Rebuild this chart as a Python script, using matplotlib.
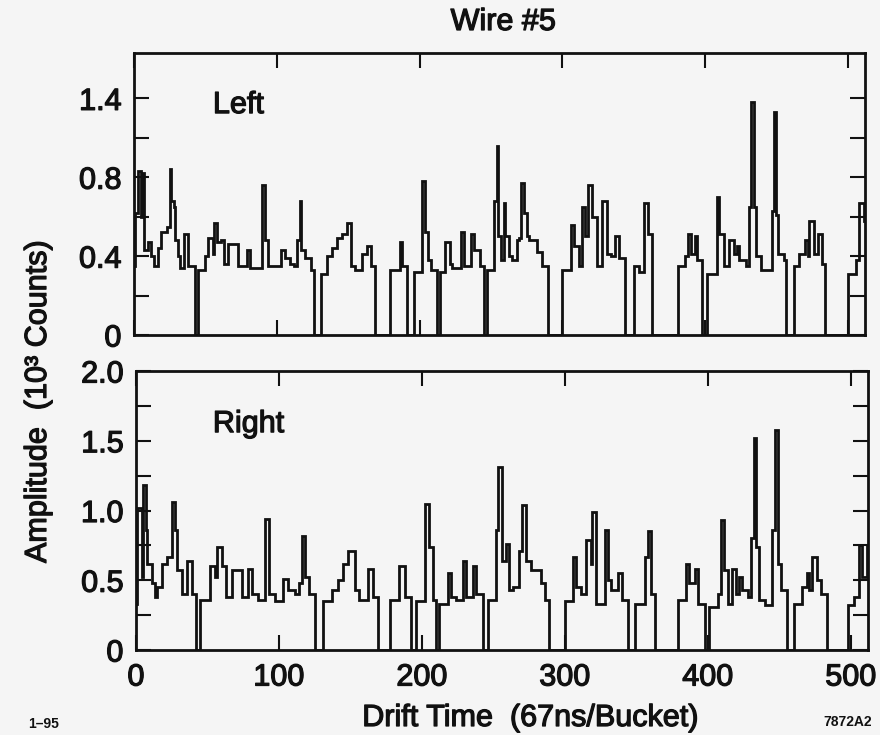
import numpy as np
import matplotlib
matplotlib.use('Agg')
import matplotlib.pyplot as plt
import matplotlib.patheffects as pe

plt.rcParams['font.family'] = ['Liberation Sans', 'DejaVu Sans']

# bucket edges and amplitudes (10^3 counts)
left_edges = [0, 1, 3, 5, 6, 7, 10, 12, 14, 17, 19, 23, 25, 26, 28, 29, 31, 32, 35, 38,
              43, 45, 50, 52, 55, 56, 58, 61, 63, 66, 73, 79, 81, 90, 92, 94, 103, 106, 109, 112,
              114, 116, 117, 120, 124, 126, 131, 135, 139, 142, 146, 149, 152, 155, 160, 163, 166, 169, 179, 186,
              188, 191, 196, 202, 204, 206, 208, 212, 214, 218, 221, 223, 229, 231, 236, 238, 242, 245, 247, 252,
              254, 255, 257, 259, 260, 263, 265, 268, 270, 271, 273, 275, 277, 282, 286, 290, 300, 306, 308, 312,
              314, 316, 318, 321, 324, 328, 331, 334, 337, 340, 344, 350, 354, 357, 360, 363, 381, 386, 388, 390,
              393, 394, 398, 401, 408, 410, 413, 417, 420, 422, 424, 429, 431, 432, 434, 436, 439, 447, 448, 450,
              451, 455, 457, 462, 466, 470, 472, 473, 476, 479, 482, 484, 500, 506, 508, 511, 512]
left_counts = [.35, .62, .83, .60, .82, .43, .47, .40, .35, .44, .52, .55, .84, .68, .65, .48, .40, .34, .51, .35,
               0, .33, .40, .49, .41, .57, .47, .48, .36, .46, .35, .43, .34, .76, .48, .35, .43, .39, .36, .35,
               .48, .68, .43, .39, .33, 0, .31, .40, .44, .49, .51, .57, .35, .33, .41, .45, .35, 0, .33, .47,
               .35, 0, .32, .78, .52, .38, .33, 0, .32, .47, .36, .34, .52, .35, .51, .43, .35, 0, .33, .68,
               .96, .50, .38, .67, .50, .40, .38, .48, .49, .77, .62, .50, .48, .42, .35, 0, .33, .56, .45, .35,
               .65, .50, .76, .60, .35, .68, .41, .40, .50, .39, 0, .35, .32, .67, .51, 0, .35, .40, .51, .41,
               .50, .38, 0, .31, .70, .51, .35, .48, .41, .45, .38, .35, .65, 1.18, .65, .40, .33, .63, 1.13, .61,
               .41, .38, 0, .35, .41, .48, .40, .58, .41, .51, .36, 0, .31, .38, .67, .58]

right_edges = [0, 1, 4, 5, 7, 8, 11, 13, 15, 18, 22, 25, 27, 29, 32, 36, 39, 42, 45, 52,
               55, 57, 60, 63, 67, 74, 78, 81, 85, 90, 93, 97, 103, 106, 111, 114, 116, 118, 121, 125,
               131, 137, 141, 145, 148, 153, 156, 162, 166, 169, 178, 184, 188, 192, 196, 202, 205, 208, 210, 212,
               218, 220, 224, 229, 231, 236, 238, 243, 246, 252, 253, 256, 259, 261, 264, 268, 270, 273, 276, 283,
               286, 289, 300, 306, 308, 311, 315, 318, 319, 322, 328, 330, 332, 337, 340, 344, 349, 356, 358, 360,
               363, 379, 385, 387, 391, 393, 398, 401, 407, 409, 411, 414, 417, 420, 422, 424, 428, 430, 432, 434,
               436, 440, 445, 447, 449, 451, 455, 460, 466, 469, 471, 473, 476, 479, 483, 498, 502, 506, 508, 511,
               512]
right_counts = [.33, 1.02, .52, 1.18, .86, .62, .48, .38, .45, .62, .67, 1.06, .86, .57, .40, .64, .40, 0, .36, .60,
                .52, .74, .60, .38, .57, .38, .58, .40, .36, .94, .40, .35, .51, .43, .40, .48, .82, .52, .40, 0,
                .35, .43, .50, .62, .71, .43, .36, .58, .38, 0, .36, .60, .38, 0, .35, 1.05, .74, .36, 0, .33,
                .55, .38, .36, .64, .38, .60, .40, 0, .36, .86, 1.31, .64, .76, .43, .45, .71, 1.04, .64, .57, .48,
                .36, 0, .35, .67, .45, .40, .79, .62, .99, .33, .86, .50, .43, .55, .36, 0, .33, .67, .85, .40,
                0, .36, .62, .48, .58, .33, 0, .31, .40, .93, .57, .33, .58, .40, .52, .43, .38, .80, 1.52, .74,
                .36, .32, .86, 1.58, .62, .43, 0, .33, .45, .55, .43, .67, .50, .40, 0, .32, .38, .75, .52, .75]

x_ticks = [0, 100, 200, 300, 400, 500]
left_yticks = [0, 0.2, 0.4, 0.6, 0.8, 1.0, 1.2]
left_ylabels = ['0', '', '0.4', '', '0.8', '', '1.4']
right_yticks = [0, 0.25, 0.5, 0.75, 1.0, 1.25, 1.5, 1.75, 2.0]
right_ylabels = ['0', '', '0.5', '', '1.0', '', '1.5', '', '2.0']

bg = '#f5f5f5'
ink = '#111111'
W, H = 880, 735
heavy = [pe.withStroke(linewidth=0.9, foreground=ink)]

fig = plt.figure(figsize=(8.8, 7.35), dpi=100, facecolor=bg)
ax1 = fig.add_axes([134 / W, 1 - 335 / H, 731 / W, 282 / H])
ax2 = fig.add_axes([136 / W, 1 - 650 / H, 732 / W, 279 / H])

for ax, edges, counts in [(ax1, left_edges, left_counts), (ax2, right_edges, right_counts)]:
    ax.set_facecolor(bg)
    ax.stairs(counts, edges, baseline=None, color=ink, lw=2.0)
    ax.set_xlim(0, 512)
    ax.set_xticks(x_ticks)
    ax.tick_params(direction='in', length=11, width=1.5, top=True, right=True,
                   labelsize=22, colors=ink, pad=9)
    for s in ax.spines.values():
        s.set_linewidth(2.0)
        s.set_color(ink)

ax1.set_ylim(0, 1.43)
ax1.set_yticks(left_yticks)
ax1.set_yticklabels(left_ylabels)
ax1.set_xticklabels([])
ax1.text(0.108, 0.787, 'Left', transform=ax1.transAxes, fontsize=22, color=ink,
         va='baseline', path_effects=heavy)

ax2.set_ylim(0, 2.0)
ax2.set_yticks(right_yticks)
ax2.set_yticklabels(right_ylabels)
ax2.text(0.105, 0.781, 'Right', transform=ax2.transAxes, fontsize=22, color=ink,
         va='baseline', path_effects=heavy)

for ax in (ax1, ax2):
    for lab in ax.get_xticklabels() + ax.get_yticklabels():
        lab.set_path_effects(heavy)

fig.text(503 / W, 1 - 30 / H, 'Wire #5', fontsize=22, color=ink, ha='center',
         va='baseline', path_effects=heavy)
fig.text(38 / W, 1 - 402 / H, 'Amplitude  (10³ Counts)', fontsize=22, color=ink,
         rotation=90, ha='center', va='center', path_effects=heavy)
fig.text(530 / W, 1 - 726 / H, 'Drift Time  (67ns/Bucket)', fontsize=22, color=ink,
         ha='center', va='baseline', path_effects=heavy)
fig.text(28 / W, 1 - 728 / H, '1–95', fontsize=10, fontweight='bold', color=ink, va='baseline')
fig.text(848 / W, 1 - 726 / H, '7872A2', fontsize=10, fontweight='bold', color=ink,
         ha='center', va='baseline')

fig.savefig('out.png', dpi=100, facecolor=bg)
